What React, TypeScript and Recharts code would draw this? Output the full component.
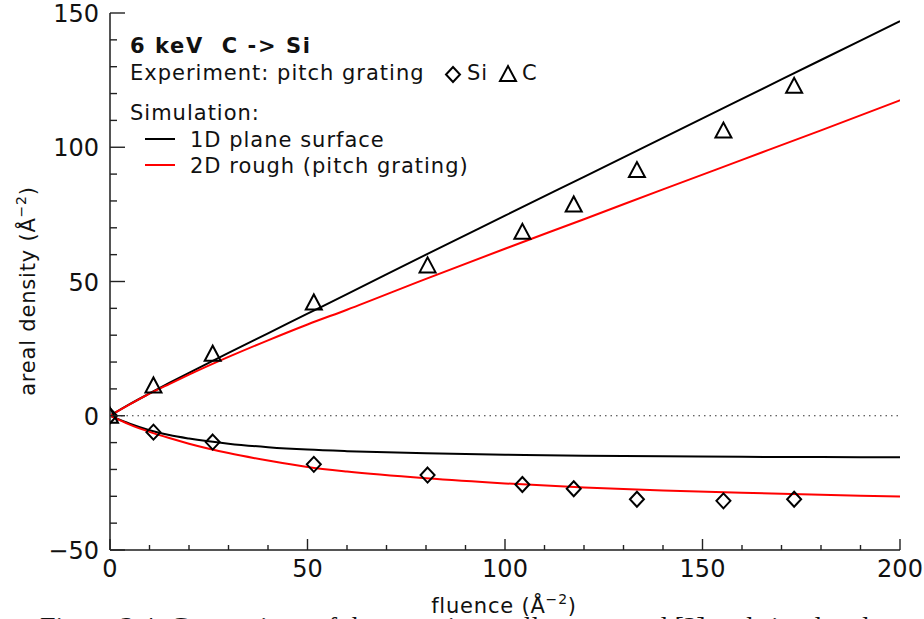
import { ComposedChart, Line, Scatter, XAxis, YAxis, ReferenceLine } from 'recharts';

// simulation curves (fluence grid + areal densities)
const simFluence = [0, 5, 10, 15, 20, 30, 40, 50, 60, 80, 100, 120, 140, 160, 180, 200];
const sim1dC = [0, 4.3, 8.3, 12.2, 16, 23.4, 30.7, 38, 45.3, 60, 74.5, 89, 103.5, 118, 132.5, 147];
const sim2dC = [0, 4.2, 8.2, 11.8, 15.3, 21.9, 28.1, 34, 39.5, 51, 62.2, 73.2, 84.3, 95.3, 106.3, 117.5];
const sim1dSi = [0, -3, -5.4, -7.2, -8.5, -10.4, -11.7, -12.6, -13.2, -14, -14.5, -14.9, -15.1, -15.3, -15.4, -15.5];
const sim2dSi = [0, -3.3, -6, -8.3, -10.4, -13.9, -16.7, -19.1, -20.8, -23.3, -25.2, -26.7, -27.8, -28.7, -29.4, -30.1];

// measured points, pitch grating
const expFluence = [0, 11, 26, 51.6, 80.4, 104.4, 117.4, 133.4, 155.3, 173.2];
const expC = [0, 11.3, 23.1, 42.2, 56, 68.5, 78.7, 91.5, 106.2, 122.9];
const expSi = [0, -6.1, -9.8, -18.1, -22.1, -25.6, -27.2, -31.1, -31.7, -31.1];

// axis ticks
const xTicks = [0, 10, 20, 30, 40, 50, 60, 70, 80, 90, 100, 110, 120, 130, 140, 150, 160, 170, 180, 190, 200];
const xMajor = [0, 50, 100, 150, 200];
const yTicks = [-50, -40, -30, -20, -10, 0, 10, 20, 30, 40, 50, 60, 70, 80, 90, 100, 110, 120, 130, 140, 150];
const yMajor = [-50, 0, 50, 100, 150];

const FONT = '"DejaVu Sans", sans-serif';
const TICK = '#222';

const pts = (xs: number[], ys: number[]) => xs.map((x, i) => ({ x, y: ys[i] }));

const fmt = (v: number) => (v < 0 ? '\u2212' + Math.abs(v) : String(v));

const BottomTick = (p: any) => {
  const v = p.payload.value;
  const major = xMajor.includes(v);
  return (
    <g>
      <line x1={p.x} x2={p.x} y1={p.y} y2={p.y - (major ? 11 : 5)} stroke={TICK} strokeWidth={1.4} />
      {major && (
        <text x={p.x} y={p.y + 27} textAnchor="middle" fontSize={24} fontFamily={FONT} fill="#111">
          {v}
        </text>
      )}
    </g>
  );
};

const TopTick = (p: any) => {
  const major = xMajor.includes(p.payload.value);
  return <line x1={p.x} x2={p.x} y1={p.y} y2={p.y + (major ? 11 : 5)} stroke={TICK} strokeWidth={1.4} />;
};

const LeftTick = (p: any) => {
  const v = p.payload.value;
  const major = yMajor.includes(v);
  return (
    <g>
      <line x1={p.x} x2={p.x + (major ? 15 : 7)} y1={p.y} y2={p.y} stroke={TICK} strokeWidth={1.4} />
      {major && (
        <text x={p.x - 11} y={p.y + 9} textAnchor="end" fontSize={24} fontFamily={FONT} fill="#111">
          {fmt(v)}
        </text>
      )}
    </g>
  );
};

const RightTick = (p: any) => {
  const major = yMajor.includes(p.payload.value);
  return <line x1={p.x} x2={p.x - (major ? 15 : 7)} y1={p.y} y2={p.y} stroke={TICK} strokeWidth={1.4} />;
};

const Triangle = (p: any) => {
  const { cx, cy } = p;
  return (
    <polygon
      points={`${cx - 8},${cy + 7} ${cx + 8},${cy + 7} ${cx},${cy - 8}`}
      fill="none"
      stroke="#000"
      strokeWidth={2}
    />
  );
};

const Diamond = (p: any) => {
  const { cx, cy } = p;
  return (
    <polygon
      points={`${cx},${cy - 7.5} ${cx + 7},${cy} ${cx},${cy + 7.5} ${cx - 7},${cy}`}
      fill="none"
      stroke="#000"
      strokeWidth={2}
    />
  );
};

const txt = { fontFamily: FONT, fontSize: 21, letterSpacing: 1, fill: '#111', style: { whiteSpace: 'pre' } } as any;

export default function App() {
  return (
    <div style={{ position: 'absolute', left: 0, top: 0, width: 924, height: 619, overflow: 'hidden', background: '#fff' }}>
      <ComposedChart width={924} height={619} margin={{ top: 13, right: 24, bottom: 0, left: 0 }}>
        <XAxis
          xAxisId="x"
          type="number"
          dataKey="x"
          domain={[0, 200]}
          allowDataOverflow
          ticks={xTicks}
          interval={0}
          height={69}
          tickSize={0}
          tickMargin={0}
          tickLine={false}
          axisLine={{ stroke: '#555', strokeWidth: 2 }}
          tick={BottomTick}
        />
        <XAxis
          xAxisId="xt"
          orientation="top"
          type="number"
          domain={[0, 200]}
          allowDataOverflow
          ticks={xTicks}
          interval={0}
          height={0}
          tickSize={0}
          tickMargin={0}
          tickLine={false}
          axisLine={{ stroke: '#555', strokeWidth: 2 }}
          tick={TopTick}
        />
        <YAxis
          yAxisId="y"
          type="number"
          domain={[-50, 150]}
          allowDataOverflow
          ticks={yTicks}
          interval={0}
          width={110}
          tickSize={0}
          tickMargin={0}
          tickLine={false}
          axisLine={{ stroke: '#555', strokeWidth: 2 }}
          tick={LeftTick}
        />
        <YAxis
          yAxisId="yr"
          orientation="right"
          type="number"
          domain={[-50, 150]}
          allowDataOverflow
          ticks={yTicks}
          interval={0}
          width={0}
          tickSize={0}
          tickMargin={0}
          tickLine={false}
          axisLine={{ stroke: '#555', strokeWidth: 2 }}
          tick={RightTick}
        />
        <ReferenceLine xAxisId="x" yAxisId="y" y={0} stroke="#333" strokeWidth={1.2} strokeDasharray="1.5 4" />
        <Line xAxisId="x" yAxisId="y" data={pts(simFluence, sim1dC)} dataKey="y" type="monotone" stroke="#000" strokeWidth={2} dot={false} isAnimationActive={false} />
        <Line xAxisId="x" yAxisId="y" data={pts(simFluence, sim1dSi)} dataKey="y" type="monotone" stroke="#000" strokeWidth={2} dot={false} isAnimationActive={false} />
        <Line xAxisId="x" yAxisId="y" data={pts(simFluence, sim2dC)} dataKey="y" type="monotone" stroke="#ff0000" strokeWidth={2} dot={false} isAnimationActive={false} />
        <Line xAxisId="x" yAxisId="y" data={pts(simFluence, sim2dSi)} dataKey="y" type="monotone" stroke="#ff0000" strokeWidth={2} dot={false} isAnimationActive={false} />
        <Scatter xAxisId="x" yAxisId="y" data={pts(expFluence, expC)} dataKey="y" shape={Triangle} isAnimationActive={false} />
        <Scatter xAxisId="x" yAxisId="y" data={pts(expFluence, expSi)} dataKey="y" shape={Diamond} isAnimationActive={false} />
      </ComposedChart>

      {/* legend, axis titles and caption */}
      <svg width={924} height={619} style={{ position: 'absolute', left: 0, top: 0, pointerEvents: 'none' }}>
        <text x={130} y={53} {...txt} letterSpacing={1.6} fontWeight="bold">{'6 keV  C -> Si'}</text>
        <text x={130} y={80} {...txt}>Experiment: pitch grating</text>
        <polygon points="453,67 460,74.5 453,82 446,74.5" fill="none" stroke="#000" strokeWidth={2} />
        <text x={467} y={80} {...txt}>Si</text>
        <polygon points="500,81 516,81 508,66" fill="none" stroke="#000" strokeWidth={2} />
        <text x={522} y={80} {...txt}>C</text>
        <text x={130} y={120} {...txt}>Simulation:</text>
        <line x1={145} x2={175} y1={139} y2={139} stroke="#000" strokeWidth={2} />
        <text x={190} y={147} {...txt}>1D plane surface</text>
        <line x1={145} x2={175} y1={165} y2={165} stroke="#ff0000" strokeWidth={2} />
        <text x={190} y={173} {...txt}>2D rough (pitch grating)</text>

        <text x={504} y={613} textAnchor="middle" fontFamily={FONT} fontSize={21} letterSpacing={0.8} fill="#111">
          fluence (Å<tspan dy={-9} fontSize={14}>−2</tspan><tspan dy={9}>)</tspan>
        </text>
        <text
          x={291}
          y={35}
          transform="rotate(-90 0 0) translate(-582 0)"
          textAnchor="middle"
          fontFamily={FONT}
          fontSize={21}
          letterSpacing={0.8}
          fill="#111"
        >
          areal density (Å<tspan dy={-9} fontSize={14}>−2</tspan><tspan dy={9}>)</tspan>
        </text>

        <text x={40} y={636} fontFamily='"Liberation Serif", serif' fontSize={28} fill="#111" style={{ whiteSpace: 'pre' } as any}>
          Figure 3.4: Comparison of the experimentally measured [?] and simulated
        </text>
      </svg>
    </div>
  );
}
